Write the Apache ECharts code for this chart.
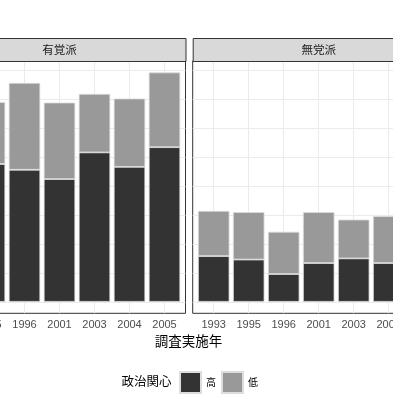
<!DOCTYPE html>
<html><head><meta charset="utf-8">
<script src="https://cdn.jsdelivr.net/npm/echarts@6/dist/echarts.min.js"></script>
<style>html,body{margin:0;padding:0;background:#fff}#c{width:393px;height:409px}</style>
</head><body><div id="c"></div>
<script>
const years = ['1993','1995','1996','2001','2003','2004','2005'];
const panels = ['有覚派','無党派'];
const levels = ['高','低'];
const partyHigh = [240, 238, 228, 212, 258, 233, 267];
const partyLow  = [120, 107, 150, 132, 101, 118, 129];
const nonHigh   = [79, 73, 48, 67, 75, 67, 70];
const nonLow    = [78, 82, 73, 88, 67, 81, 80];
const gridVals  = [0, 50, 100, 150, 200, 250, 300, 350, 400];

const totals = partyHigh.map((v,i)=>v+partyLow[i]).concat(nonHigh.map((v,i)=>v+nonLow[i]));
const maxTotal = Math.max(...totals);
const yMin = -0.05*maxTotal, yMax = 1.05*maxTotal;
const xIdx = years.map((y,i)=>i);

const panelX = [-66.5, 192.7];
const panelW = 252, panelTop = 61, panelH = 252.3;
const band = panelW/(years.length+0.2);
const dark = '#333333', light = '#999999';

const grids = [], xAxes = [], yAxes = [], series = [];
const data = [[partyHigh, partyLow],[nonHigh, nonLow]];
// outer panel grids (border + gridlines)
panelX.forEach((l,g) => {
  grids.push({left:l, width:panelW, top:panelTop, height:panelH, show:true, borderColor:'#333333', borderWidth:1, backgroundColor:'#ffffff', z:0, outerBoundsMode:'none', containLabel:false});
  xAxes.push({type:'value', gridIndex:g, min:-0.6, max:years.length-0.4, show:false});
  yAxes.push({type:'value', gridIndex:g, min:yMin, max:yMax, show:false});
  series.push({
    type:'line', xAxisIndex:g, yAxisIndex:g, data:[], z:1, silent:true,
    markLine:{silent:true, z:1, symbol:'none', label:{show:false}, animation:false,
      lineStyle:{color:'#ebebeb', type:'solid', width:1},
      data: gridVals.map(v=>({yAxis:v})).concat(xIdx.map(x=>({xAxis:x})))}
  });
});
// inner bar grids
panelX.forEach((l,g) => {
  const gi = g+2;
  grids.push({left:l+0.1*band, width:band*years.length, top:panelTop, height:panelH, show:false, outerBoundsMode:'none', containLabel:false});
  xAxes.push({type:'category', gridIndex:gi, data:years, boundaryGap:true,
    axisLine:{show:false}, splitLine:{show:false},
    axisTick:{show:true, alignWithLabel:true, length:3, lineStyle:{color:'#333333'}},
    axisLabel:{show:true, interval:0, margin:6, fontSize:11, color:'#4d4d4d', fontFamily:'Liberation Sans'}});
  yAxes.push({type:'value', gridIndex:gi, min:yMin, max:yMax, axisLine:{show:false}, axisTick:{show:false}, axisLabel:{show:false}, splitLine:{show:false}});
  levels.forEach((lev,k) => {
    series.push({
      type:'bar', name:lev, xAxisIndex:gi, yAxisIndex:gi, stack:'s'+g, z:2,
      barWidth:'90%', data: data[g][k],
      itemStyle:{color: k===0?dark:light, borderColor:'#dddddd', borderWidth:0.8},
      animation:false
    });
  });
});

const graphic = [];
panelX.forEach((l,g) => {
  graphic.push({type:'rect', left:l, top:38, shape:{width:panelW, height:23}, style:{fill:'#d9d9d9', stroke:'#333333', lineWidth:1}, z:5});
  graphic.push({type:'text', x:l+panelW/2, y:49.5, style:{text:panels[g], fill:'#1a1a1a', font:'11.5px "Noto Sans CJK JP"', align:'center', verticalAlign:'middle'}, z:6});
});
graphic.push({type:'text', x:188.5, y:341, style:{text:'調査実施年', fill:'#000000', font:'13.5px "Noto Sans CJK JP"', align:'center', verticalAlign:'middle'}});
graphic.push({type:'text', x:121.5, y:381.5, style:{text:'政治関心', fill:'#000000', font:'12.5px "Noto Sans CJK JP"', align:'left', verticalAlign:'middle'}});

const chart = echarts.init(document.getElementById('c'), null, {renderer:'canvas'});
chart.setOption({
  animation:false,
  grid:grids, xAxis:xAxes, yAxis:yAxes, series:series, graphic:graphic,
  legend:{data:levels, left:179, top:371, itemWidth:21, itemHeight:21, itemGap:5, padding:0, icon:'rect',
    textStyle:{fontSize:10, color:'#000000', fontFamily:'Noto Sans CJK JP'}}
});
</script></body></html>
